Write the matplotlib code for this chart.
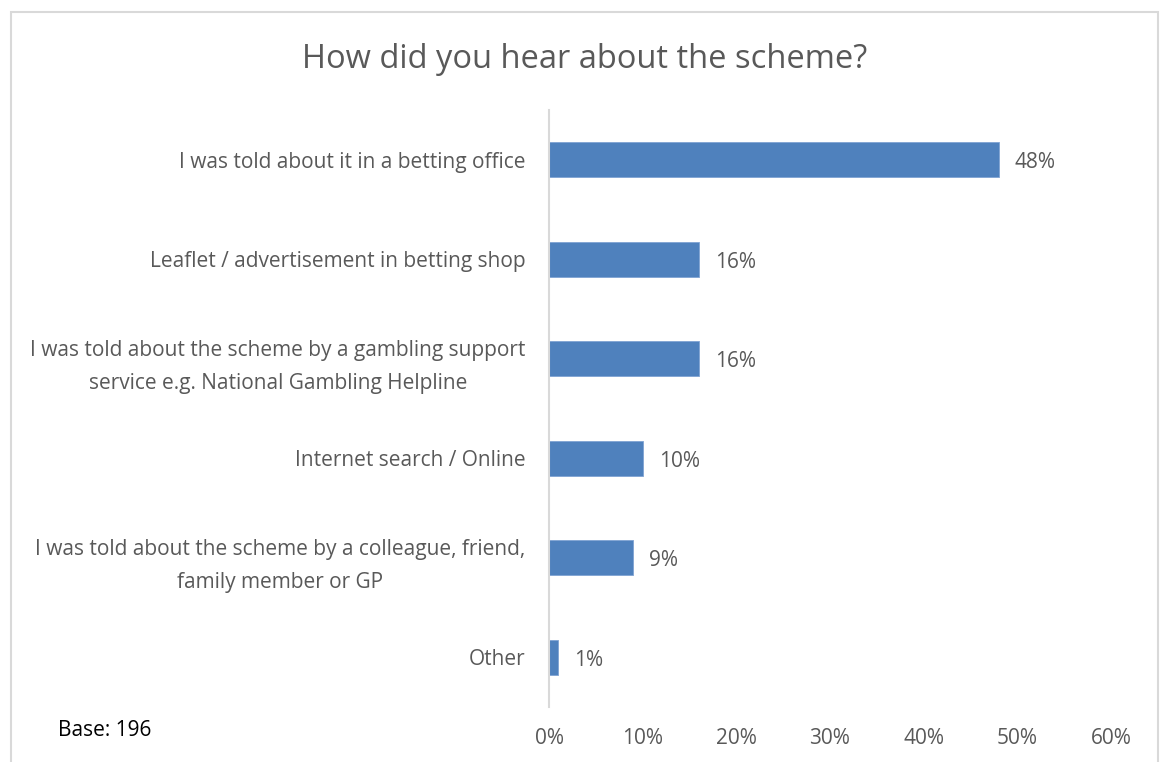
import matplotlib.pyplot as plt
from matplotlib.patches import Rectangle

# survey responses, top to bottom
labels = [
    'I was told about it in a betting office',
    'Leaflet / advertisement in betting shop',
    'I was told about the scheme by a gambling support\nservice e.g. National Gambling Helpline',
    'Internet search / Online',
    'I was told about the scheme by a colleague, friend,\nfamily member or GP',
    'Other',
]
values = [48, 16, 16, 10, 9, 1]
ticks = [0, 10, 20, 30, 40, 50, 60]

grey = '#595959'
fs = 15
plt.rcParams['font.family'] = ['Open Sans', 'DejaVu Sans']

fig = plt.figure(figsize=(11.6, 7.62), dpi=100)
ax = fig.add_axes([549 / 1160, 55 / 762, 562 / 1160, 597 / 762])

pos = list(range(len(values)))
ax.barh(pos, values, height=0.35, color='#4F81BD', edgecolor='#7FA3D3', linewidth=0.6)
for p, v in zip(pos, values):
    ax.text(v + 1.7, p + 0.03, f'{v}%', va='center', ha='left', fontsize=fs, color=grey)

ax.set_ylim(len(values) - 0.5, -0.5)
ax.set_xlim(0, 60)
ax.set_xticks(ticks)
ax.set_xticklabels([f'{t}%' for t in ticks], fontsize=fs, color=grey)
ax.set_yticks(pos)
ax.set_yticklabels(labels, fontsize=fs, color=grey, multialignment='center', linespacing=1.75)
ax.tick_params(axis='both', length=0)
ax.tick_params(axis='y', pad=17)
ax.tick_params(axis='x', pad=15)
for s in ['top', 'right', 'bottom']:
    ax.spines[s].set_visible(False)
ax.spines['left'].set_color('#D9D9D9')
ax.spines['left'].set_linewidth(1.5)

fig.text(585 / 1160, 1 - 59 / 762, 'How did you hear about the scheme?', ha='center', va='center',
         fontsize=23.5, color=grey)
fig.text(58 / 1160, 1 - 731 / 762, 'Base: 196', ha='left', va='center', fontsize=fs, color='black')

# chart frame
fig.patches.append(Rectangle((11 / 1160, -0.01), 1147 / 1160, 1 - 12 / 762 + 0.01,
                             transform=fig.transFigure, fill=False, edgecolor='#D9D9D9', linewidth=1.5))

fig.savefig('out.png', dpi=100)
